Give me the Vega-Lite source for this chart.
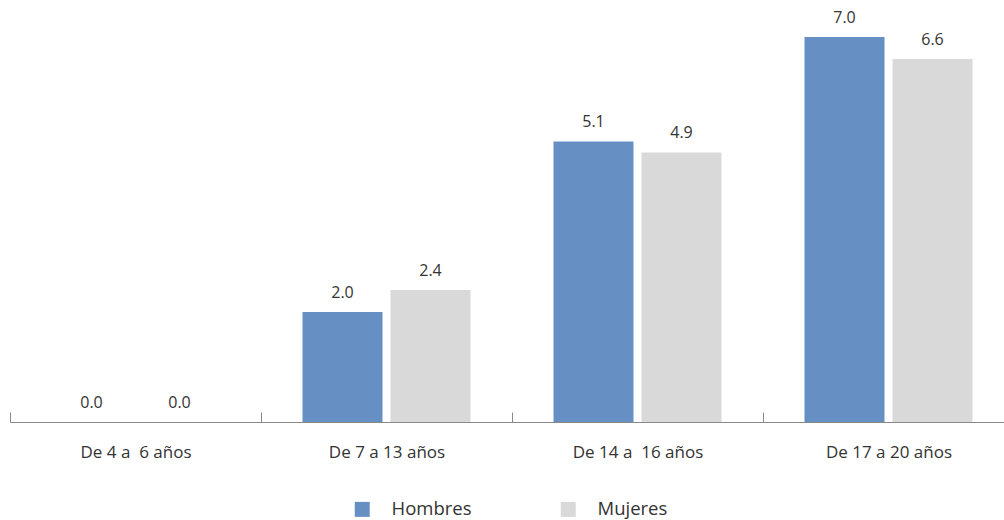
{
  "$schema": "https://vega.github.io/schema/vega-lite/v6.json",
  "width": 994,
  "height": 422,
  "autosize": "none",
  "padding": {"left": 10, "top": 0, "right": 0, "bottom": 98},
  "background": "white",
  "config": {"view": {"stroke": null}, "font": "Open Sans"},
  "data": {
    "values": [
      {"grupo": "De 4 a \u00a06 años", "sexo": "Hombres", "valor": 0.0},
      {"grupo": "De 4 a \u00a06 años", "sexo": "Mujeres", "valor": 0.0},
      {"grupo": "De 7 a 13 años", "sexo": "Hombres", "valor": 2.0},
      {"grupo": "De 7 a 13 años", "sexo": "Mujeres", "valor": 2.4},
      {"grupo": "De 14 a \u00a016 años", "sexo": "Hombres", "valor": 5.1},
      {"grupo": "De 14 a \u00a016 años", "sexo": "Mujeres", "valor": 4.9},
      {"grupo": "De 17 a 20 años", "sexo": "Hombres", "valor": 7.0},
      {"grupo": "De 17 a 20 años", "sexo": "Mujeres", "valor": 6.6}
    ]
  },
  "encoding": {
    "x": {
      "field": "grupo", "type": "nominal", "sort": null,
      "scale": {"range": [0, 1004], "paddingInner": 0, "paddingOuter": 0},
      "axis": {
        "title": null, "labelAngle": 0, "labelFontSize": 17, "labelColor": "#333333",
        "labelPadding": 32, "domainColor": "#888888", "domainWidth": 1,
        "tickBand": "extent", "tickSize": -10, "tickColor": "#888888", "tickWidth": 1,
        "labelFont": "Open Sans"
      }
    },
    "xOffset": {
      "field": "sexo", "type": "nominal",
      "scale": {"paddingInner": 0.0909, "paddingOuter": 0.4716}
    },
    "y": {
      "field": "valor", "type": "quantitative",
      "scale": {"domain": [0, 7.6727], "nice": false, "zero": true},
      "axis": null
    }
  },
  "layer": [
    {
      "mark": {"type": "bar"},
      "encoding": {
        "color": {
          "field": "sexo", "type": "nominal",
          "scale": {"domain": ["Hombres", "Mujeres"], "range": ["#6690C4", "#D9D9D9"]},
          "legend": {
            "title": null, "orient": "none", "direction": "horizontal",
            "legendX": 343, "legendY": 500,
            "symbolType": "square", "symbolSize": 225, "symbolStrokeWidth": 0,
            "labelFontSize": 18.5, "labelColor": "#333333", "labelOffset": 20,
            "columnPadding": 87, "labelFont": "Open Sans"
          }
        }
      }
    },
    {
      "mark": {"type": "text", "dy": -19, "fontSize": 16, "color": "#333333", "font": "Open Sans"},
      "encoding": {
        "text": {"field": "valor", "type": "quantitative", "format": ".1f"}
      }
    }
  ]
}
